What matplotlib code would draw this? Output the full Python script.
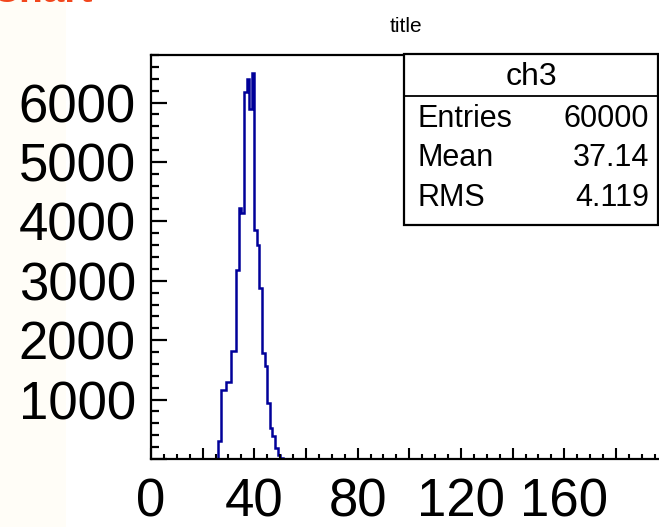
import numpy as np
import matplotlib
matplotlib.use('Agg')
import matplotlib.pyplot as plt
from matplotlib.ticker import MultipleLocator, FuncFormatter
from matplotlib.patches import Rectangle
from matplotlib.lines import Line2D

# histogram "ch3": unit-width bins, first filled bin at x = 26
BIN_START = 26
COUNTS = [310, 1165, 1165, 1300, 1300, 1810, 1810, 3180, 4220, 4140,
          6180, 6400, 5890, 6490, 3860, 3610, 2870, 1780, 1560, 940,
          530, 380, 180, 67, 20, 5]
X_RANGE = (0, 200)
Y_MAX = 6800
X_LABELS = [0, 40, 80, 120, 160]
Y_LABELS = [1000, 2000, 3000, 4000, 5000, 6000]

TITLE = "title"
STATS_NAME = "ch3"
STATS_ROWS = [("Entries", "60000"), ("Mean", "37.14"), ("RMS", "4.119")]

W, H = 659, 527
FONT = ['Liberation Sans', 'DejaVu Sans']
LINE_COLOR = '#000099'


def fx(px):
    return px / W


def fy(py):
    return 1 - py / H


fig = plt.figure(figsize=(W / 100, H / 100), dpi=100)
fig.patch.set_facecolor('white')

# faint page background strip on the far left (behind everything)
fig.patches.append(Rectangle((0, 0), fx(66), 1, transform=fig.transFigure,
                             facecolor='#fffdf7', edgecolor='none', zorder=-1))

# axes frame: left edge at x=151 px, bottom at 459 px, top at 55 px;
# the right part of the pad runs past the picture edge
px_per_unit = 2.583
ax_left, ax_bot, ax_top = 151, 459, 55
ax_w = (X_RANGE[1] - X_RANGE[0]) * px_per_unit
ax = fig.add_axes([fx(ax_left), fy(ax_bot), ax_w / W, (ax_bot - ax_top) / H])

edges = np.arange(BIN_START, BIN_START + len(COUNTS) + 1)
ax.stairs(COUNTS, edges, color=LINE_COLOR, linewidth=1.8, baseline=0)

ax.set_xlim(*X_RANGE)
ax.set_ylim(0, Y_MAX)

for side in ['left', 'bottom', 'top', 'right']:
    ax.spines[side].set_linewidth(1.6)
    ax.spines[side].set_color('black')

ax.xaxis.set_major_locator(MultipleLocator(20))
ax.xaxis.set_minor_locator(MultipleLocator(5))
ax.yaxis.set_major_locator(MultipleLocator(1000))
ax.yaxis.set_minor_locator(MultipleLocator(200))
ax.xaxis.set_major_formatter(FuncFormatter(
    lambda v, p: f'{int(round(v))}' if int(round(v)) in X_LABELS else ''))
ax.yaxis.set_major_formatter(FuncFormatter(
    lambda v, p: f'{int(round(v))}' if int(round(v)) in Y_LABELS else ''))

ax.tick_params(axis='x', which='major', direction='in', length=8, width=1.5,
               pad=13, labelsize=38)
ax.tick_params(axis='x', which='minor', direction='in', length=3.6, width=1.5)
ax.tick_params(axis='y', which='major', direction='in', length=11.5, width=1.6,
               pad=11, labelsize=38)
ax.tick_params(axis='y', which='minor', direction='in', length=6, width=1.6)
for lab in ax.get_xticklabels() + ax.get_yticklabels():
    lab.set_family(FONT)

# title
fig.text(fx(406), fy(26), TITLE, ha='center', va='center',
         fontsize=15, family=FONT)

# page heading that the screenshot crops: only the feet of the letters show
fig.text(fx(93), fy(2), "Chart", ha='right', va='baseline', fontsize=28,
         fontweight='bold', color='#f2461c', family=FONT)

# stats box
bx0, bx1, by0, by1, bsep = 404, 658, 54, 225, 96
fig.patches.append(Rectangle((fx(bx0), fy(by1)), fx(bx1) - fx(bx0),
                             fy(by0) - fy(by1), transform=fig.transFigure,
                             facecolor='white', edgecolor='black',
                             linewidth=1.6, zorder=5))
fig.lines.append(Line2D([fx(bx0), fx(bx1)], [fy(bsep), fy(bsep)],
                        transform=fig.transFigure, color='black',
                        linewidth=1.3, zorder=6))
fig.text(fx((bx0 + bx1) / 2), fy(77), STATS_NAME, ha='center', va='center',
         fontsize=23, family=FONT, zorder=7)
for i, (name, val) in enumerate(STATS_ROWS):
    yy = 119 + i * 39.5
    fig.text(fx(417), fy(yy), name, ha='left', va='center', fontsize=22,
             family=FONT, zorder=7)
    fig.text(fx(649), fy(yy), val, ha='right', va='center', fontsize=22,
             family=FONT, zorder=7)

fig.savefig('out.png', dpi=100)
